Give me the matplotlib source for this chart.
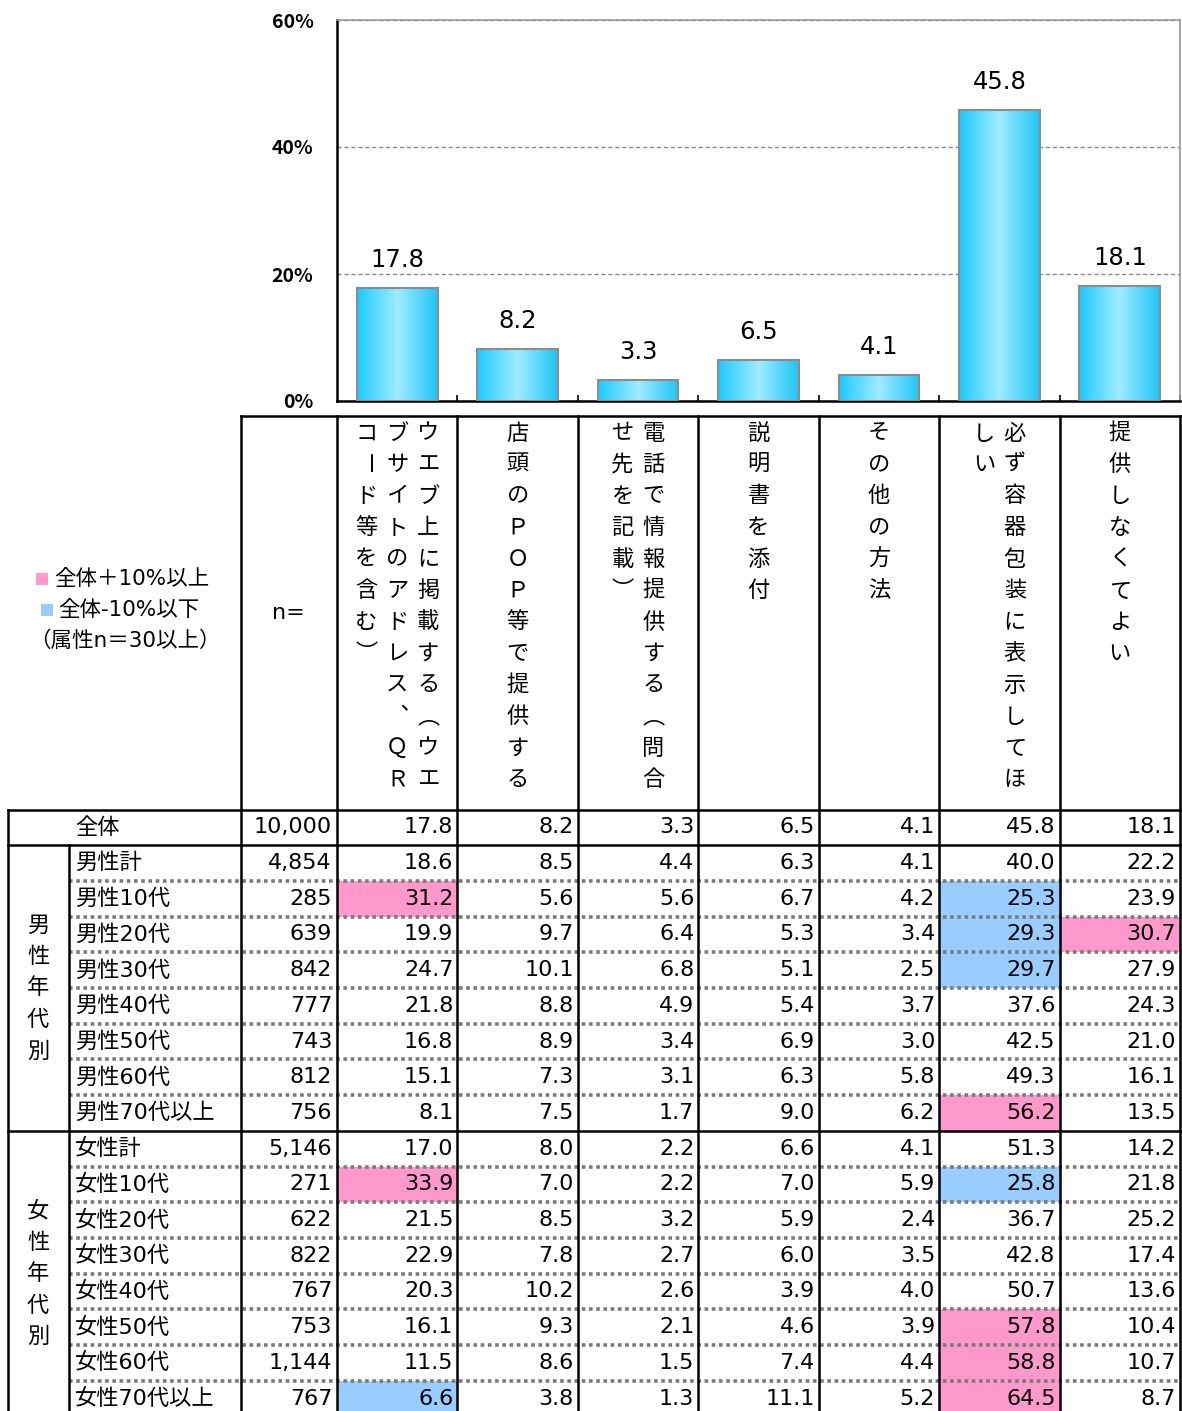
import numpy as np
import matplotlib
matplotlib.use("Agg")
import matplotlib.pyplot as plt
from matplotlib.colors import LinearSegmentedColormap
from matplotlib.patches import Rectangle

plt.rcParams['font.family'] = ['DejaVu Sans', 'Noto Sans CJK JP']

W, H = 1182, 1411

headers = [
    "ウエブ上に掲載する（ウエブサイトのアドレス、ＱＲコード等を含む）",
    "店頭のＰＯＰ等で提供する",
    "電話で情報提供する（問合せ先を記載）",
    "説明書を添付",
    "その他の方法",
    "必ず容器包装に表示してほしい",
    "提供しなくてよい",
]

row_labels = ["全体",
              "男性計", "男性10代", "男性20代", "男性30代", "男性40代",
              "男性50代", "男性60代", "男性70代以上",
              "女性計", "女性10代", "女性20代", "女性30代", "女性40代",
              "女性50代", "女性60代", "女性70代以上"]

group_labels = ["男性年代別", "女性年代別"]
group_rows = [(1, 9), (9, 17)]

n_sizes = [10000, 4854, 285, 639, 842, 777, 743, 812, 756,
           5146, 271, 622, 822, 767, 753, 1144, 767]

values = [
    [17.8, 8.2, 3.3, 6.5, 4.1, 45.8, 18.1],
    [18.6, 8.5, 4.4, 6.3, 4.1, 40.0, 22.2],
    [31.2, 5.6, 5.6, 6.7, 4.2, 25.3, 23.9],
    [19.9, 9.7, 6.4, 5.3, 3.4, 29.3, 30.7],
    [24.7, 10.1, 6.8, 5.1, 2.5, 29.7, 27.9],
    [21.8, 8.8, 4.9, 5.4, 3.7, 37.6, 24.3],
    [16.8, 8.9, 3.4, 6.9, 3.0, 42.5, 21.0],
    [15.1, 7.3, 3.1, 6.3, 5.8, 49.3, 16.1],
    [8.1, 7.5, 1.7, 9.0, 6.2, 56.2, 13.5],
    [17.0, 8.0, 2.2, 6.6, 4.1, 51.3, 14.2],
    [33.9, 7.0, 2.2, 7.0, 5.9, 25.8, 21.8],
    [21.5, 8.5, 3.2, 5.9, 2.4, 36.7, 25.2],
    [22.9, 7.8, 2.7, 6.0, 3.5, 42.8, 17.4],
    [20.3, 10.2, 2.6, 3.9, 4.0, 50.7, 13.6],
    [16.1, 9.3, 2.1, 4.6, 3.9, 57.8, 10.4],
    [11.5, 8.6, 1.5, 7.4, 4.4, 58.8, 10.7],
    [6.6, 3.8, 1.3, 11.1, 5.2, 64.5, 8.7],
]

overall = values[0]
PINK, BLUE = '#ff99cc', '#99ccff'

fig = plt.figure(figsize=(W / 100, H / 100), dpi=100)

# canvas in pixel units for the table part
tab = fig.add_axes([0, 0, 1, 1])
tab.set_xlim(0, W)
tab.set_ylim(H, 0)
tab.axis('off')

# bar chart
px_l, px_r, px_t, px_b = 337, 1180, 20, 401
ax = fig.add_axes([px_l / W, 1 - px_b / H, (px_r - px_l) / W, (px_b - px_t) / H])
ax.set_facecolor('none')

x = np.arange(len(overall))
bars = ax.bar(x, overall, width=0.67, facecolor='none', edgecolor='#8c8c8c',
              linewidth=1.5, zorder=3)
cmap = LinearSegmentedColormap.from_list('barfill', ['#1ccaff', '#a0ecff', '#1ec4f6'])
grad = np.linspace(0, 1, 256).reshape(1, -1)
for b in bars:
    x0 = b.get_x()
    im = ax.imshow(grad, cmap=cmap, aspect='auto', zorder=2,
                   extent=(x0, x0 + b.get_width(), 0, b.get_height()))
    im.set_clip_path(b)

for xi, v in zip(x, overall):
    ax.annotate(f"{v:.1f}", (xi, v), xytext=(0, 15), textcoords='offset points',
                ha='center', va='baseline', fontsize=17.5)

ax.set_xlim(-0.5, len(overall) - 0.5)
ax.set_ylim(0, 60)
ax.set_yticks([0, 20, 40, 60])
ax.set_yticklabels([f"{t}%" for t in [0, 20, 40, 60]], fontsize=14,
                   fontweight='bold', family=['Noto Sans CJK JP'])
ax.tick_params(axis='y', length=0, pad=17)
ax.set_xticks([])
ax.set_xticks(np.arange(0.5, len(overall), 1), minor=True)
ax.tick_params(axis='x', which='minor', direction='in', length=4, width=1.2,
               color='black', labelbottom=False)
ax.yaxis.grid(True, linestyle=(0, (3, 2)), color='#8a8a8a', linewidth=1)
ax.set_axisbelow(True)
for side in ['left', 'bottom']:
    ax.spines[side].set_color('black')
    ax.spines[side].set_linewidth(1.8)
for side in ['top', 'right']:
    ax.spines[side].set_color('#999999')
    ax.spines[side].set_linewidth(1.2)

# table geometry
col_w = (px_r - px_l) / len(headers)
col_edges = [241] + [px_l + k * col_w for k in range(len(headers) + 1)]
head_top, body_top, row_h = 416, 809.5, 35.7


def row_y(i):
    return body_top + i * row_h


# vertical-writing forms of punctuation
VERT = {'、': '︑', '（': '︵', '）': '︶'}


def vtext(s, xc, ytop, step=31.5, per_col=12, gap=31):
    chunks = [s[k:k + per_col] for k in range(0, len(s), per_col)]
    ncol = len(chunks)
    for j, chunk in enumerate(chunks):
        xx = xc + (ncol - 1) / 2 * gap - j * gap
        for k, ch in enumerate(chunk):
            rot = -90 if ch == "ー" else 0
            tab.text(xx, ytop + k * step, VERT.get(ch, ch), rotation=rot,
                     ha='center', va='center', fontsize=16,
                     family=['Noto Sans CJK JP'])


# highlighted cells: +/-10 points vs overall, n>=30
for i in range(1, len(row_labels)):
    if n_sizes[i] < 30:
        continue
    for j, v in enumerate(values[i]):
        d = round(v - overall[j], 1)
        if d >= 10:
            color = PINK
        elif d <= -10:
            color = BLUE
        else:
            continue
        tab.add_patch(Rectangle((col_edges[j + 1], row_y(i)), col_w, row_h,
                                facecolor=color, edgecolor='none', zorder=1))

# header
for j, h in enumerate(headers):
    xc = (col_edges[j + 1] + col_edges[j + 2]) / 2
    vtext(h, xc, 433)
tab.text(288, 613, "n=", ha='center', va='center', fontsize=16)

# legend note
tab.add_patch(Rectangle((36, 573), 12, 12, facecolor=PINK, edgecolor='none'))
tab.add_patch(Rectangle((41, 604), 12, 12, facecolor=BLUE, edgecolor='none'))
tab.text(54, 579, "全体＋10%以上", ha='left', va='center', fontsize=15.5)
tab.text(58, 610, "全体-10%以下", ha='left', va='center', fontsize=15.5)
tab.text(125, 641, "（属性n＝30以上）", ha='center', va='center', fontsize=15.5)

# body
for i, lab in enumerate(row_labels):
    yc = row_y(i) + row_h / 2
    tab.text(75, yc, lab, ha='left', va='center', fontsize=16, zorder=3)
    tab.text(col_edges[1] - 5, yc, f"{n_sizes[i]:,}", ha='right', va='center',
             fontsize=16, zorder=3)
    for j, v in enumerate(values[i]):
        tab.text(col_edges[j + 2] - 4, yc, f"{v:.1f}", ha='right', va='center',
                 fontsize=16, zorder=3)

for g, (r0, r1) in zip(group_labels, group_rows):
    ymid = (row_y(r0) + row_y(r1)) / 2
    vtext(g, 38, ymid - (len(g) - 1) / 2 * 31.5, per_col=20)

# grid lines
lw = 1.8
right = col_edges[-1] + 1
tab.plot([8, 8], [row_y(0), H], color='black', lw=lw, zorder=4)
tab.plot([69, 69], [row_y(1), H], color='black', lw=lw, zorder=4)
for xe in col_edges:
    tab.plot([xe, xe], [head_top, H], color='black', lw=lw, zorder=4)
tab.plot([241, right], [head_top, head_top], color='black', lw=lw, zorder=4)
for i in [0, 1, 9]:
    tab.plot([8, right], [row_y(i), row_y(i)], color='black', lw=lw, zorder=4)
for r0, r1 in group_rows:
    for i in range(r0 + 1, r1):
        tab.plot([69, right], [row_y(i), row_y(i)], color='#7a7a7a', lw=2.6,
                 linestyle=(0, (1, 1)), zorder=3)

fig.savefig("out.png", dpi=100)
